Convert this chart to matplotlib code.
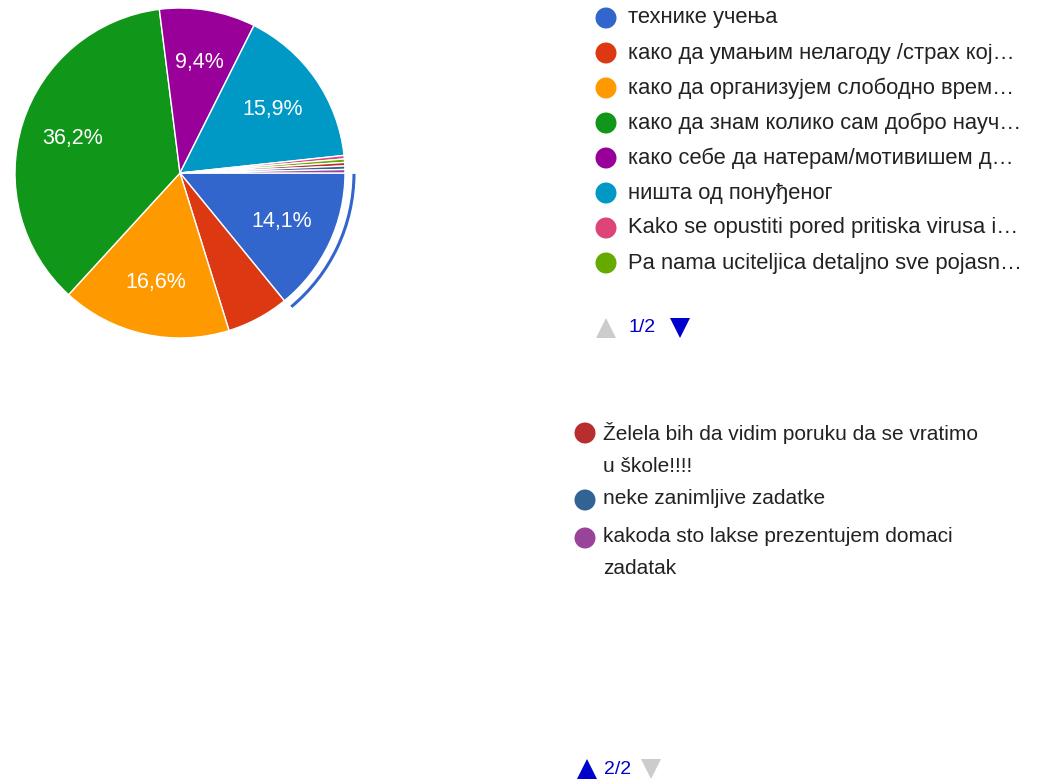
import matplotlib.pyplot as plt
from matplotlib.patches import Arc, Circle, Polygon

plt.rcParams['font.family'] = ['Liberation Sans', 'DejaVu Sans']

# slices in clockwise order, starting at 3 o'clock
labels_page1 = ['технике учења',
                'како да умањим нелагоду /страх кој…',
                'како да организујем слободно врем…',
                'како да знам колико сам добро науч…',
                'како себе да натерам/мотивишем д…',
                'ништа од понуђеног',
                'Kako se opustiti pored pritiska virusa i…',
                'Pa nama uciteljica detaljno sve pojasn…']
labels_page2 = ['Želela bih da vidim poruku da se vratimo\nu škole!!!!',
                'neke zanimljive zadatke',
                'kakoda sto lakse prezentujem domaci\nzadatak']
shares = [14.1, 6.1, 16.6, 36.2, 9.4, 15.9, 0.34, 0.34, 0.34, 0.34, 0.34]
colors = ['#3366cc', '#dc3912', '#ff9900', '#109618', '#990099', '#0099c6',
          '#dd4477', '#66aa00', '#b82e2e', '#316395', '#994499']

W, H = 1038, 781
fig = plt.figure(figsize=(W / 100, H / 100), dpi=100)
ax = fig.add_axes([0, 0, 1, 1])
ax.set_xlim(0, W)
ax.set_ylim(H, 0)
ax.set_aspect('equal')
ax.axis('off')

cx, cy, r = 180, 173, 165

def pct(v):
    if v < 8:
        return ''
    return ('%.1f%%' % v).replace('.', ',')

wedges, texts, autotexts = ax.pie(shares, colors=colors, center=(cx, cy), radius=r,
                                  startangle=0, counterclock=True,
                                  autopct=pct, pctdistance=0.68,
                                  wedgeprops=dict(edgecolor='white', linewidth=1),
                                  textprops=dict(color='white', fontsize=15.5))
ax.set_xlim(0, W)
ax.set_ylim(H, 0)

# highlight arc around the first slice
theta2 = 360 * shares[0] / sum(shares)
ax.add_patch(Arc((cx, cy), 2 * (r + 9), 2 * (r + 9), theta1=0.3, theta2=theta2 - 0.5,
                 color=colors[0], linewidth=2.2))

txt = '#222222'
# legend, page 1
for i, lab in enumerate(labels_page1):
    y = 18 + 35 * i
    ax.add_patch(Circle((606, y), 10.5, color=colors[i], ec='none'))
    ax.text(628, y, lab, fontsize=15.8, color=txt, va='center', ha='left')

ny = 328
ax.add_patch(Polygon([(596, ny + 10), (616, ny + 10), (606, ny - 10)], color='#cccccc', ec='none'))
ax.text(628, ny, '1/2', fontsize=14, color='#0000cc', va='center', ha='left')
ax.add_patch(Polygon([(670, ny - 10), (690, ny - 10), (680, ny + 10)], color='#0000cc', ec='none'))

# legend, page 2
ys2 = [433, 500, 538]
for j, lab in enumerate(labels_page2):
    y = ys2[j]
    ax.add_patch(Circle((585, y), 10.5, color=colors[8 + j], ec='none'))
    ax.text(603, y - 11, lab, fontsize=15, color=txt, va='top', ha='left', linespacing=1.9)

ny2 = 769
ax.add_patch(Polygon([(577, ny2 + 10), (597, ny2 + 10), (587, ny2 - 10)], color='#0000cc', ec='none'))
ax.text(604, ny2, '2/2', fontsize=14, color='#0000cc', va='center', ha='left')
ax.add_patch(Polygon([(641, ny2 - 10), (661, ny2 - 10), (651, ny2 + 10)], color='#cccccc', ec='none'))

fig.savefig('out.png', dpi=100, facecolor='white')
